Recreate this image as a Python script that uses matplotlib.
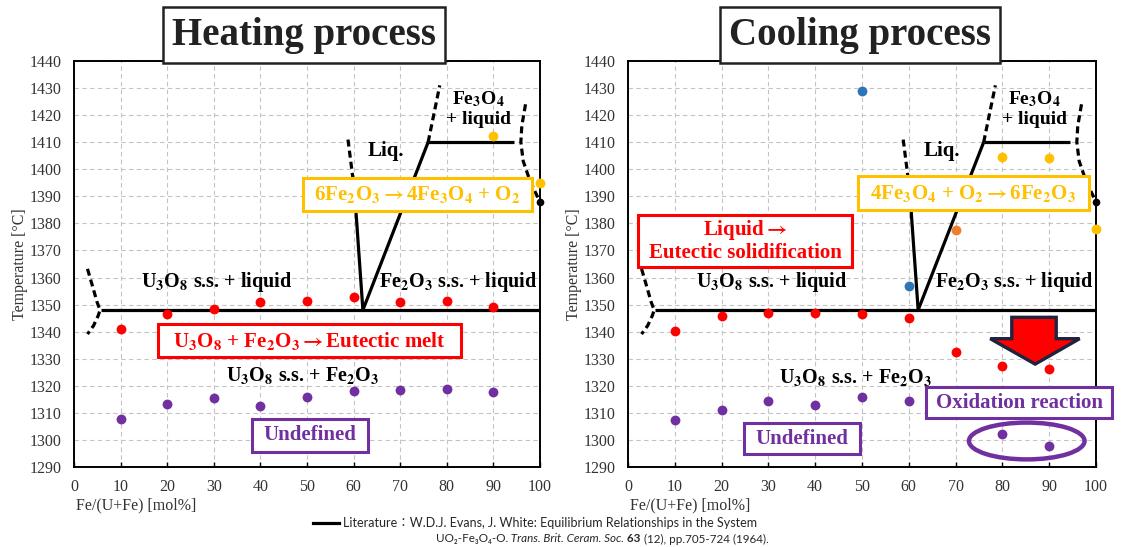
import numpy as np
import matplotlib
matplotlib.use('Agg')
import matplotlib.pyplot as plt
from matplotlib.patches import Polygon, Ellipse, Rectangle
from matplotlib.lines import Line2D

plt.rcParams['font.family'] = 'Liberation Serif'
plt.rcParams['mathtext.fontset'] = 'stix'
plt.rcParams['mathtext.default'] = 'bf'

RED = '#FF0000'
PURPLE = '#7030A0'
YELLOW = '#FFC000'
BLUE = '#2E75B6'
ORANGE = '#ED7D31'

# -------------------
# measured points, Fe/(U+Fe) [mol%] vs temperature [degC]
# -------------------
comp = [10, 20, 30, 40, 50, 60, 70, 80, 90]

heat_melt = [1340.8, 1346.5, 1348.5, 1351.0, 1351.3, 1352.7, 1350.8, 1351.3, 1349.0]
heat_undef = [1307.6, 1313.2, 1315.4, 1312.7, 1316.0, 1318.2, 1318.5, 1318.8, 1317.6]
heat_ox_x = [90, 100]
heat_ox = [1412.2, 1395.0]

cool_melt = [1340.2, 1345.9, 1347.0, 1347.0, 1346.5, 1344.9, 1332.5, 1327.2, 1326.2]
cool_undef_x = [10, 20, 30, 40, 50, 60, 80, 90]
cool_undef = [1307.5, 1311.1, 1314.4, 1312.8, 1316.0, 1314.4, 1302.3, 1297.8]
cool_blue_x = [50, 60]
cool_blue = [1428.8, 1356.8]
cool_orange_x = [70]
cool_orange = [1377.4]
cool_ox_x = [80, 90, 100]
cool_ox = [1404.6, 1404.2, 1378.0]

# -------------------
# phase boundaries (Evans & White, 1964)
# -------------------
eutectic_x = [5.8, 100]
eutectic_t = [1348, 1348]
liq_left_x = [62.0, 60.2]
liq_left_t = [1348, 1392]
liq_left_dash_x = [60.2, 58.8]
liq_left_dash_t = [1392, 1411]
liq_right_x = [62.0, 76.0]
liq_right_t = [1348, 1410]
fe3o4_x = [76.0, 94.5]
fe3o4_t = [1410, 1410]
fe3o4_dash_x = [76.0, 78.5]
fe3o4_dash_t = [1410, 1431]
right_dash_x = [96.9, 96.1, 95.9, 96.4, 97.6, 99.0, 100.0]
right_dash_t = [1424, 1416, 1410, 1403, 1397, 1391.5, 1388]
left_dash_x = [2.9, 4.05, 4.96, 5.6, 5.2, 4.2, 2.9]
left_dash_t = [1363.2, 1356.4, 1350.9, 1348.0, 1345.9, 1342.2, 1339.1]

xticks = list(range(0, 101, 10))
yticks = list(range(1290, 1441, 10))

fig = plt.figure(figsize=(11.24, 5.47), dpi=100)
ax1 = fig.add_axes([0.0658, 0.1463, 0.4146, 0.7422])
ax2 = fig.add_axes([0.5587, 0.1463, 0.4164, 0.7422])

DASH = (0, (2.2, 1.3))
LW = 2.3


def setup(ax):
    ax.set_xlim(0, 100)
    ax.set_ylim(1290, 1440)
    ax.set_xticks(xticks)
    ax.set_yticks(yticks)
    ax.set_axisbelow(True)
    ax.grid(True, color='#c4c4c4', ls=(0, (4, 3)), lw=0.8)
    ax.tick_params(axis='x', direction='in', length=3.5, width=1, pad=9,
                   labelsize=11.5, labelcolor='#333333')
    ax.tick_params(axis='y', length=0, pad=9, labelsize=11.5, labelcolor='#333333')
    for s in ax.spines.values():
        s.set_linewidth(1.4)
    ax.text(-0.115, 0.5, 'Temperature [°C]', rotation=90, ha='center', va='center',
            fontsize=11.5, color='#333333', transform=ax.transAxes)
    ax.text(0.005, -0.094, 'Fe/(U+Fe) [mol%]', ha='left', va='center',
            fontsize=11.5, color='#333333', transform=ax.transAxes)


def literature(ax):
    kw = dict(color='black', lw=LW, zorder=2, solid_capstyle='butt')
    ax.plot(eutectic_x, eutectic_t, **kw)
    ax.plot(liq_left_x, liq_left_t, **kw)
    ax.plot(liq_right_x, liq_right_t, **kw)
    ax.plot(fe3o4_x, fe3o4_t, **kw)
    ax.plot(liq_left_dash_x, liq_left_dash_t, ls=DASH, color='black', lw=LW, zorder=2)
    ax.plot(fe3o4_dash_x, fe3o4_dash_t, ls=DASH, color='black', lw=LW, zorder=2)
    ax.plot(right_dash_x, right_dash_t, ls=DASH, color='black', lw=LW, zorder=2,
            clip_on=False)
    ax.plot(right_dash_x[-1:], right_dash_t[-1:], 'o', color='black', ms=4.5,
            zorder=2, clip_on=False)
    ax.plot(left_dash_x, left_dash_t, ls=DASH, color='black', lw=LW, zorder=2)


def box(ax, x0, x1, y0, y1, color):
    ax.add_patch(Rectangle((x0, y0), x1 - x0, y1 - y0, fc='white', ec=color,
                           lw=2.2, zorder=3, clip_on=False))


def label(ax, x, y, s, size=14.5, color='black'):
    ax.text(x, y, s, ha='center', va='center', fontsize=size, color=color,
            fontweight='bold', zorder=5)


def pts(ax, x, y, color):
    ax.scatter(x, y, s=50, color=color, zorder=4, clip_on=False, linewidths=0)


for ax in (ax1, ax2):
    setup(ax)
    literature(ax)
    label(ax, 30.7, 1358.5, r'U$_3$O$_8$ s.s. + liquid')
    label(ax, 82.4, 1358.5, r'Fe$_2$O$_3$ s.s. + liquid')
    label(ax, 67.0, 1406.8, 'Liq.', 15)
    label(ax, 86.8, 1426.0, r'Fe$_3$O$_4$', 14)
    label(ax, 86.8, 1418.2, '+ liquid', 14)

# heating process
label(ax1, 49.0, 1323.8, r'U$_3$O$_8$ s.s. + Fe$_2$O$_3$')
box(ax1, 49.2, 98.2, 1384.6, 1396.6, YELLOW)
label(ax1, 73.7, 1390.6, r'6Fe$_2$O$_3\rightarrow$4Fe$_3$O$_4$ + O$_2$', 15, YELLOW)
box(ax1, 18.1, 83.0, 1330.7, 1342.8, RED)
label(ax1, 50.5, 1336.7, r'U$_3$O$_8$ + Fe$_2$O$_3\rightarrow$Eutectic melt', 15, RED)
box(ax1, 38.2, 63.1, 1295.7, 1307.9, PURPLE)
label(ax1, 50.6, 1301.8, 'Undefined', 15, PURPLE)
pts(ax1, comp, heat_melt, RED)
pts(ax1, comp, heat_undef, PURPLE)
pts(ax1, heat_ox_x, heat_ox, YELLOW)

# cooling process
label(ax2, 48.6, 1323.0, r'U$_3$O$_8$ s.s. + Fe$_2$O$_3$')
box(ax2, 49.2, 98.4, 1385.1, 1397.4, YELLOW)
label(ax2, 73.8, 1391.2, r'4Fe$_3$O$_4$ + O$_2\rightarrow$6Fe$_2$O$_3$', 15, YELLOW)
box(ax2, 2.2, 47.8, 1363.8, 1383.0, RED)
label(ax2, 25.0, 1377.6, r'Liquid$\rightarrow$', 15, RED)
label(ax2, 25.0, 1369.2, 'Eutectic solidification', 15, RED)
box(ax2, 24.8, 49.6, 1294.7, 1306.4, PURPLE)
label(ax2, 37.2, 1300.5, 'Undefined', 15, PURPLE)
box(ax2, 63.7, 103.4, 1308.0, 1319.6, PURPLE)
label(ax2, 83.6, 1313.8, 'Oxidation reaction', 15, PURPLE)
ax2.add_patch(Ellipse((85.2, 1299.6), 24.7, 13.6, fill=False, ec=PURPLE, lw=3.2,
                      zorder=3))
ax2.add_patch(Polygon([(82.0, 1345.3), (91.5, 1345.3), (91.5, 1337.4), (96.5, 1337.4),
                       (87.0, 1328.0), (77.4, 1337.4), (82.0, 1337.4)],
                      closed=True, fc=RED, ec='#1F2340', lw=2.4, zorder=3))
pts(ax2, comp, cool_melt, RED)
pts(ax2, cool_undef_x, cool_undef, PURPLE)
pts(ax2, cool_blue_x, cool_blue, BLUE)
pts(ax2, cool_orange_x, cool_orange, ORANGE)
pts(ax2, cool_ox_x, cool_ox, YELLOW)

# titles
for xc, s in [(304, 'Heating process'), (860, 'Cooling process')]:
    fig.text(xc / 1124, 1 - 35 / 547, s, ha='center', va='center', fontsize=28,
             fontweight='bold', color='#222222',
             bbox=dict(boxstyle='square,pad=0.24', fc='white', ec='#222222', lw=1.8))

# reference line key
SANS = ['Lato', 'Noto Sans', 'Noto Sans CJK JP']
fig.add_artist(Line2D([313 / 1124, 339 / 1124], [1 - 523 / 547, 1 - 523 / 547],
                      color='black', lw=2.3))
fig.text(343 / 1124, 1 - 523 / 547,
         'Literature：W.D.J. Evans, J. White: Equilibrium Relationships in the System',
         family=SANS, fontsize=9, color='#262626', va='center', ha='left')

fig.canvas.draw()
rend = fig.canvas.get_renderer()
xpos = 436
parts = [('UO₂-Fe₃O₄-O.', 'normal', 'normal'),
         (' Trans. Brit. Ceram. Soc.', 'italic', 'normal'),
         (' 63', 'normal', 'bold'),
         (' (12), pp.705-724 (1964).', 'normal', 'normal')]
for s, st, wt in parts:
    t = fig.text(xpos / 1124, 1 - 539 / 547, s, family=SANS, fontsize=8.4,
                 fontstyle=st, fontweight=wt, color='#262626', va='center', ha='left')
    bb = t.get_window_extent(renderer=rend)
    xpos = bb.x1

fig.savefig('out.png', dpi=100)
